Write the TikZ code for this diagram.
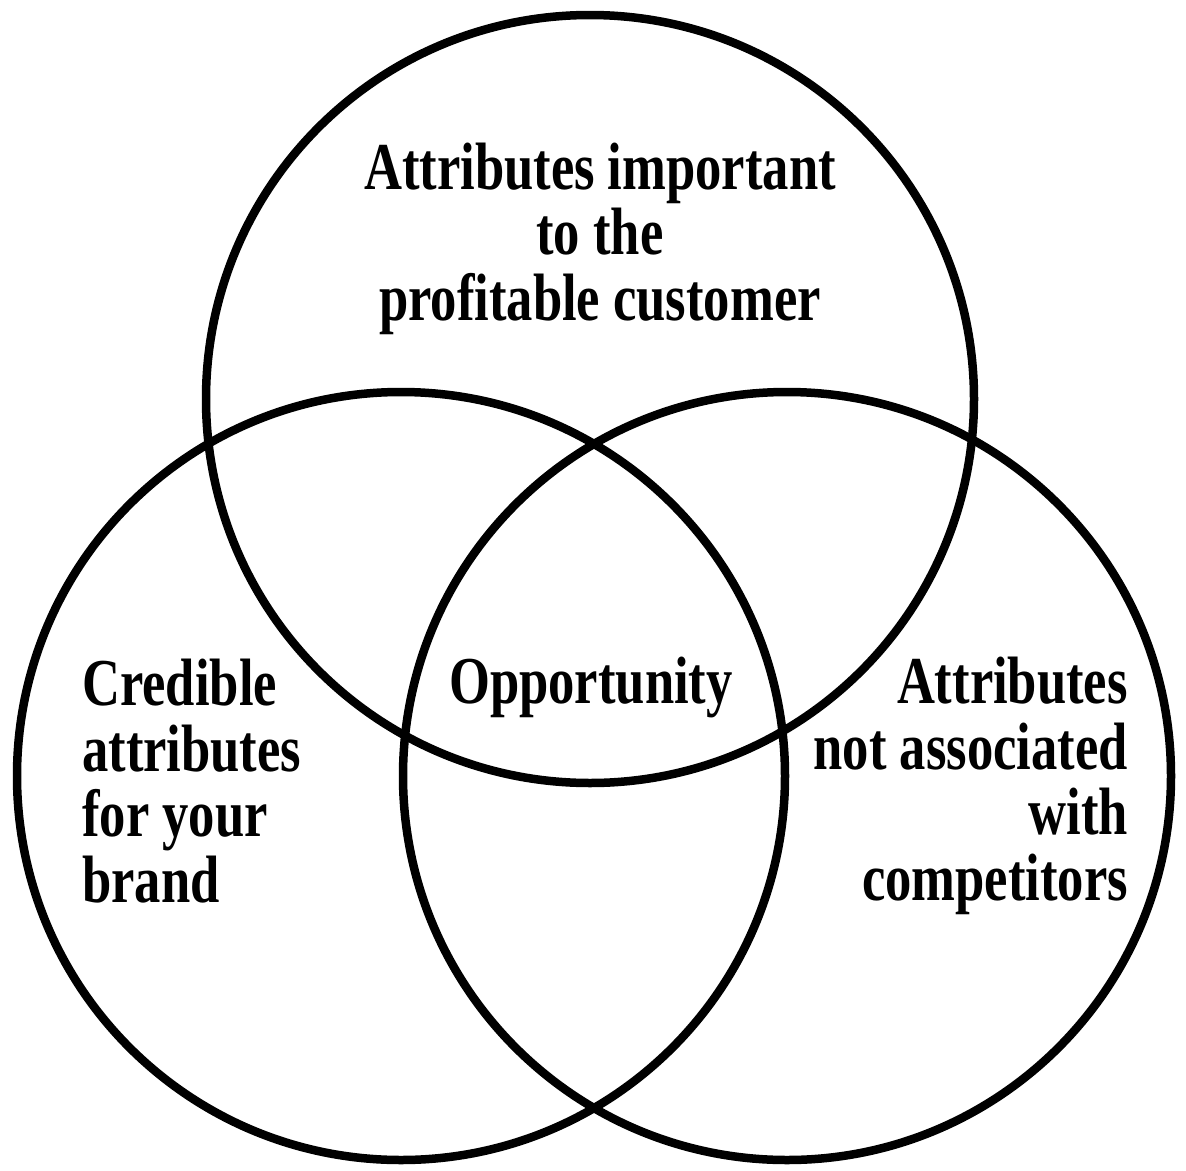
\documentclass[tikz,border=0pt]{standalone}
\usepackage{fontspec}
\newfontfamily\labfont{Liberation Serif}[FakeStretch=0.785]
\begin{document}
\begin{tikzpicture}[x=1pt,y=-1pt,
  ring/.style={draw=black,line width=8.5pt,circle,minimum size=768pt,inner sep=0pt},
  lab/.style={inner sep=0pt,font=\labfont\bfseries\fontsize{67}{65.5}\selectfont}]
\useasboundingbox (0,0) rectangle (1186,1170);
\node[ring] (top) at (590,399) {};
\node[ring] (left) at (401,776) {};
\node[ring] (right) at (787,776) {};
\node[lab,align=center,anchor=base] (t1) at (600,320) {Attributes important\\to the\\profitable customer};
\node[lab,align=left,anchor=base west] (l1) at (82,902) {Credible\\attributes\\for your\\brand};
\node[lab,align=right,anchor=base east] (r1) at (1128,900) {Attributes\\not associated\\with\\competitors};
\node[lab,anchor=base] (opp) at (591,703) {Opportunity};
\end{tikzpicture}
\end{document}
